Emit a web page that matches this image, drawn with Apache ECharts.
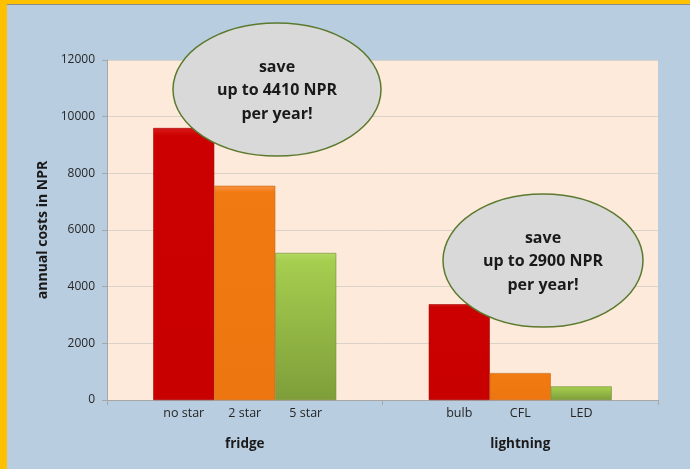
<!DOCTYPE html>
<html>
<head>
<meta charset="utf-8">
<script src="https://cdn.jsdelivr.net/npm/echarts@6/dist/echarts.min.js"></script>
<style>
html,body{margin:0;padding:0;background:#B9CDE0;}
#chart{width:690px;height:469px;}
</style>
</head>
<body>
<div id="chart"></div>
<script>
// ---- data ----
var groups = ['fridge', 'lightning'];
var fridgeTypes = ['no star', '2 star', '5 star'];
var fridgeValues = [9600, 7560, 5190];
var lightTypes = ['bulb', 'CFL', 'LED'];
var lightValues = [3380, 950, 480];
var yTicks = [0, 2000, 4000, 6000, 8000, 10000, 12000];
var callout1 = ['save', 'up to 4410 NPR', 'per year!'];
var callout2 = ['save', 'up to 2900 NPR', 'per year!'];

var FONT = '"Open Sans", "Noto Sans", sans-serif';
var colors = [
  new echarts.graphic.LinearGradient(0,0,0,1,[{offset:0,color:'#D91A1A'},{offset:0.03,color:'#CC0000'},{offset:1,color:'#C80000'}]),
  new echarts.graphic.LinearGradient(0,0,0,1,[{offset:0,color:'#F79545'},{offset:0.03,color:'#F27A12'},{offset:1,color:'#EE7610'}]),
  new echarts.graphic.LinearGradient(0,0,0,1,[{offset:0,color:'#B4DA62'},{offset:0.05,color:'#A6CE4F'},{offset:1,color:'#7E9E3A'}])
];
var borders = ['#A00000', '#C86208', '#6E8C30'];

var series = [];
for (var i = 0; i < 3; i++) {
  series.push({
    type: 'bar',
    barWidth: 61,
    barGap: '0%',
    itemStyle: { color: colors[i], borderColor: borders[i], borderWidth: 0.6 },
    label: {
      show: true, position: 'bottom', distance: 7,
      color: '#262626', fontSize: 12.5, fontFamily: FONT
    },
    data: [
      { value: fridgeValues[i], label: { formatter: fridgeTypes[i] } },
      { value: lightValues[i], label: { formatter: lightTypes[i] } }
    ]
  });
}

var chart = echarts.init(document.getElementById('chart'));
chart.setOption({
  backgroundColor: '#B9CDE0',
  animation: false,
  grid: { left: 107, right: 32, top: 60, bottom: 69, show: true, backgroundColor: '#FDEADA', borderWidth: 0 },
  xAxis: {
    type: 'category',
    data: groups,
    axisLine: { lineStyle: { color: '#A6A6A6', width: 1 } },
    axisTick: { show: true, length: 5, lineStyle: { color: '#A6A6A6' } },
    axisLabel: { margin: 37, fontSize: 13.5, fontWeight: 'bold', color: '#1A1A1A', fontFamily: FONT }
  },
  yAxis: {
    type: 'value',
    min: yTicks[0], max: yTicks[yTicks.length - 1], interval: yTicks[1] - yTicks[0],
    name: 'annual costs in NPR',
    nameLocation: 'middle', nameRotate: 90, nameGap: 57,
    nameTextStyle: { fontSize: 14, fontWeight: 'bold', color: '#1A1A1A', fontFamily: FONT },
    axisLine: { show: true, lineStyle: { color: '#A6A6A6' } },
    axisTick: { show: true, length: 5, lineStyle: { color: '#A6A6A6' } },
    axisLabel: { margin: 12, fontSize: 12, color: '#262626', fontFamily: FONT,
                 formatter: function (v) { return String(v); } },
    splitLine: { lineStyle: { color: '#D9D2C8', width: 1 } }
  },
  series: series,
  graphic: [
    { type: 'rect', z: 200, shape: { x: 0, y: 0, width: 690, height: 4 }, style: { fill: '#FFC000' } },
    { type: 'rect', z: 200, shape: { x: 0, y: 4, width: 690, height: 1 }, style: { fill: '#8C8C8C' } },
    { type: 'rect', z: 201, shape: { x: 0, y: 0, width: 7, height: 469 }, style: { fill: '#FFC000' } },
    { type: 'ellipse', z: 100, shape: { cx: 277, cy: 89.5, rx: 104, ry: 66.5 },
      style: { fill: '#D9D9D9', stroke: '#5B7A2E', lineWidth: 1.5 } },
    { type: 'text', z: 101, x: 277, y: 90.5,
      style: { text: callout1.join('\n'), fill: '#1A1A1A', font: 'bold 16px ' + FONT,
               textAlign: 'center', textVerticalAlign: 'middle', lineHeight: 23.5, align: 'center', verticalAlign: 'middle' } },
    { type: 'ellipse', z: 100, shape: { cx: 543, cy: 260.5, rx: 100, ry: 66.5 },
      style: { fill: '#D9D9D9', stroke: '#5B7A2E', lineWidth: 1.5 } },
    { type: 'text', z: 101, x: 543, y: 261.5,
      style: { text: callout2.join('\n'), fill: '#1A1A1A', font: 'bold 16px ' + FONT,
               textAlign: 'center', textVerticalAlign: 'middle', lineHeight: 23.5, align: 'center', verticalAlign: 'middle' } }
  ]
});
</script>
</body>
</html>
